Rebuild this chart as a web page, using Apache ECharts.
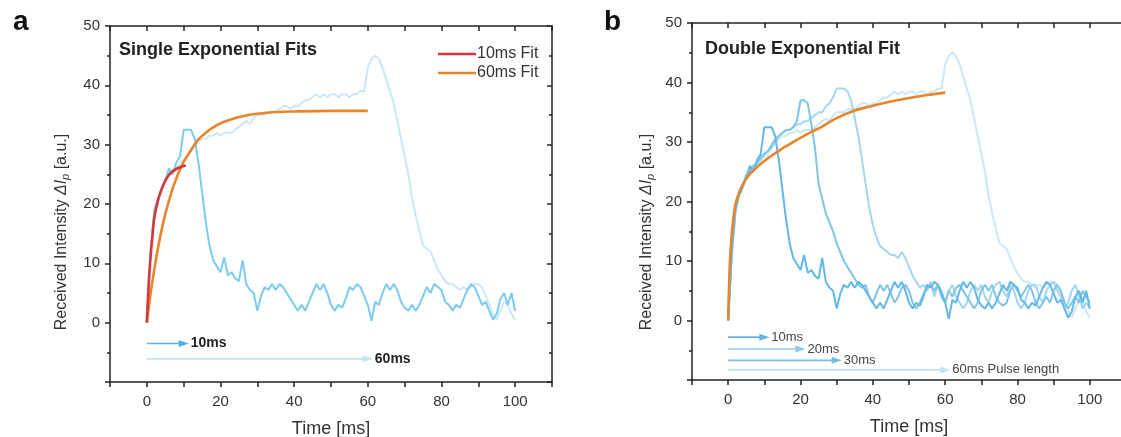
<!DOCTYPE html>
<html>
<head>
<meta charset="utf-8">
<title>Pulse response fits</title>
<script src="https://cdn.jsdelivr.net/npm/echarts@6/dist/echarts.min.js"></script>
<style>
  html, body { margin: 0; padding: 0; background: #fff; }
  #chart { width: 1121px; height: 437px; }
</style>
</head>
<body>
<div id="chart"></div>
<script>
var chart = echarts.init(document.getElementById('chart'));

// received intensity, one reading per ms (t = 0 .. 100)
var trace10 = [0, 12, 19, 21, 22.5, 24, 26, 25, 27, 28,
  32.5, 32.5, 32.5, 31, 27, 22, 17, 13, 10.5, 9.5,
  8.5, 11, 8, 8.5, 7.5, 7, 10.5, 6.5, 5.5, 5,
  2, 4.5, 6, 5.5, 6.5, 5.5, 6.5, 6, 5, 4,
  3, 2, 3, 2, 3.5, 5, 6.5, 5.5, 6.5, 5,
  3, 2, 3, 2.5, 4, 6, 5.5, 6.5, 6, 4.5,
  3, 0.3, 3.5, 3, 5, 6.5, 5.5, 6.5, 5.5, 3.5,
  2.5, 2, 3, 2, 3, 4.5, 6, 5, 6.5, 6,
  5.5, 3.5, 3, 2, 3, 2.5, 4, 5.5, 6.5, 6,
  4.5, 3, 3.5, 2, 0.5, 1.5, 4, 5, 3, 5, 2];

var trace20 = [0, 11, 18.5, 21, 22.5, 24.5, 25, 26, 26.5, 27.5,
  28, 28.5, 29.5, 30.5, 31, 31.5, 32, 32, 32.5, 33.5,
  37, 37, 36.5, 33, 29, 23, 20.5, 18, 16.5, 15,
  13, 11.5, 10, 9, 8, 7, 6, 5.5, 6, 4,
  3, 4.5, 6, 5, 6, 4.5, 3, 4, 5.5, 6,
  5, 3, 2, 3, 4.5, 5.5, 6, 5, 6, 4,
  3, 5, 4, 5.5, 6, 5, 4, 3, 2, 3,
  5, 6, 5, 6, 4, 3, 2.5, 3, 5, 6,
  5, 4, 5, 6, 5, 3, 2, 3, 4, 3,
  5, 6, 5, 3, 2, 3, 4, 3, 5, 4, 3];

var trace30 = [0, 11.5, 18, 21.5, 23, 24, 25.5, 26, 26.5, 27,
  28, 28.5, 29, 30, 31, 31.5, 32, 32, 32.5, 33,
  33, 33.5, 33.5, 34, 34.5, 35, 35, 36, 36.5, 37.5,
  39, 39, 39, 38.5, 37, 34, 31, 27, 23, 19,
  16, 14, 12.5, 12, 11.5, 11, 11, 10.5, 11.5, 10.5,
  9, 7.5, 6.5, 5.5, 6, 5, 6.5, 4, 6, 5,
  3, 5, 6, 4, 3, 2, 3, 5, 6, 5,
  6, 4, 3, 5, 6, 6.5, 5, 4, 6, 5,
  3, 2, 3, 5, 6, 6, 4, 3, 5, 6,
  6.5, 5, 4, 2, 3, 5, 6, 4, 2, 3, 2];

var trace60 = [0, 11, 18, 21, 22, 24, 25, 25.5, 26, 27,
  27.5, 28, 29, 30, 30.5, 31, 31, 31.5, 31.5, 32,
  31.5, 32, 32, 32, 32.5, 33, 33.5, 34, 33.5, 34.5,
  35, 35, 35, 35.5, 35.5, 35.5, 36, 36.5, 36.5, 36,
  36.5, 36.5, 37, 37.5, 37.5, 38, 38.5, 38, 38.5, 38,
  38.5, 38.5, 38, 38.5, 38.5, 38, 38.5, 38.5, 39, 39,
  43, 44.5, 45, 44.5, 43, 41, 39, 37, 34, 31,
  28, 25, 21, 18, 15.5, 13, 12.5, 12, 10.5, 9,
  8, 7, 6.5, 6.5, 6, 5.5, 6, 5.5, 6, 6.5,
  6.5, 6, 4.5, 3, 1.5, 0.5, 2, 3.5, 3, 1.5, 0.5];

// fitted curves [t, intensity]
var fit10 = [[0, 0], [0.5, 6.5], [1, 11], [1.5, 14.5], [2, 17.5], [3, 20.5], [4, 22.5],
  [5, 23.9], [6, 24.9], [7, 25.5], [8, 25.9], [9, 26.2], [10, 26.4], [10.6, 26.5]];
var fit60 = [[0, 0], [1, 4.8], [2, 8.9], [3, 12.5], [4, 15.6], [5, 18.3], [6, 20.5],
  [7, 22.6], [8, 24.3], [9, 25.8], [10, 27.1], [12, 29.1], [14, 30.9], [16, 32.0],
  [18, 32.9], [20, 33.6], [23, 34.3], [26, 34.8], [30, 35.2], [35, 35.5], [40, 35.6],
  [50, 35.7], [60, 35.7]];
var fitDouble = [[0, 0], [0.25, 6], [0.5, 10], [1, 14.5], [1.5, 17.5], [2, 19.5], [3, 21.5],
  [4, 22.8], [5, 23.8], [6, 24.6], [7, 25.2], [8, 25.8], [10, 26.8], [12, 27.7],
  [14, 28.5], [16, 29.3], [18, 30], [20, 30.7], [23, 31.7], [26, 32.6], [30, 34.0],
  [35, 35.3], [40, 36.1], [45, 36.8], [50, 37.4], [55, 37.9], [60, 38.3]];

// pulse length markers
var pulsesA = [10, 60];
var pulseNamesA = ['10ms', '60ms'];
var pulsesB = [10, 20, 30, 60];
var pulseNamesB = ['10ms', '20ms', '30ms', '60ms Pulse length'];

var xTicks = [0, 20, 40, 60, 80, 100];
var yTicks = [0, 10, 20, 30, 40, 50];

// ---- styling ----
var FONT = '"Liberation Sans", Arial, sans-serif';
var AXIS = '#222';
var arrowRowsA = [-3.5, -6.1];
var arrowRowsB = [-2.8, -4.8, -6.7, -8.3];
var arrowColorsA = ['#55b0e3', '#c4e3f6'];
var arrowColorsB = ['#5fb6e6', '#8bcbee', '#72bfe9', '#c4e3f6'];

function perMs(arr) {
  return arr.map(function (v, i) { return [i, v]; });
}

function xAxisFor(grid, pos) {
  var main = pos === 'bottom';
  return {
    gridIndex: grid, type: 'value', position: pos,
    min: -10, max: 110, interval: 10,
    axisLine: { onZero: false, lineStyle: { color: AXIS, width: 1.5 } },
    axisTick: { inside: !main, length: 5, lineStyle: { color: AXIS, width: 1.5 } },
    axisLabel: {
      show: main, margin: 12, color: '#333', fontSize: 15, fontFamily: FONT,
      formatter: function (v) { return xTicks.indexOf(v) >= 0 ? String(v) : ''; }
    },
    splitLine: { show: false },
    name: main ? 'Time [ms]' : '', nameLocation: 'middle', nameGap: 38,
    nameTextStyle: { fontSize: 18, color: '#333', fontFamily: FONT }
  };
}

function yAxisFor(grid, pos) {
  var main = pos === 'left';
  return {
    gridIndex: grid, type: 'value', position: pos,
    min: -10, max: 50, interval: 10,
    axisLine: { onZero: false, lineStyle: { color: AXIS, width: 1.5 } },
    axisTick: { inside: !main, length: 5, lineStyle: { color: AXIS, width: 1.5 } },
    minorTick: { show: true, splitNumber: 2, length: 3, lineStyle: { color: AXIS, width: 1.5 } },
    axisLabel: {
      show: main, margin: 10, color: '#333', fontSize: 15, fontFamily: FONT,
      formatter: function (v) { return yTicks.indexOf(v) >= 0 ? String(v) : ''; }
    },
    splitLine: { show: false }
  };
}

function traceSeries(name, arr, color, xi) {
  return {
    name: name, type: 'line', xAxisIndex: xi, yAxisIndex: xi,
    data: perMs(arr), symbol: 'none', silent: true,
    color: color, lineStyle: { color: color, width: 2 }
  };
}

function fitSeries(name, pts, color, xi) {
  return {
    name: name, type: 'line', xAxisIndex: xi, yAxisIndex: xi,
    data: pts, smooth: 0.3, symbol: 'none', silent: true,
    color: color, lineStyle: { color: color, width: 2.6 }
  };
}

function arrowSeries(len, text, row, color, xi, lbl) {
  return {
    type: 'line', xAxisIndex: xi, yAxisIndex: xi, silent: true,
    symbol: 'triangle', symbolSize: [7, 10], symbolRotate: -90,
    color: color, itemStyle: { color: color },
    lineStyle: { color: color, width: 1.6 },
    data: [
      { value: [0, row], symbol: 'none' },
      { value: [len, row], label: Object.assign({ show: true, position: 'right', distance: 2, formatter: text }, lbl) }
    ]
  };
}

var series = [
  traceSeries('60ms a', trace60, '#cbe7f8', 0),
  traceSeries('10ms a', trace10, '#7ccbf1', 0),
  fitSeries('60ms Fit', fit60, '#e8852c', 0),
  fitSeries('10ms Fit', fit10, '#d7373c', 0),
  traceSeries('60ms b', trace60, '#cbe7f8', 2),
  traceSeries('30ms b', trace30, '#a4d6f0', 2),
  traceSeries('20ms b', trace20, '#7fc6e6', 2),
  traceSeries('10ms b', trace10, '#62b8e8', 2),
  fitSeries('Double Fit', fitDouble, '#e8852c', 2)
];

pulsesA.forEach(function (p, i) {
  series.push(arrowSeries(p, pulseNamesA[i], arrowRowsA[i], arrowColorsA[i], 0,
    { fontSize: 14, fontWeight: 'bold', color: '#222', fontFamily: FONT }));
});
pulsesB.forEach(function (p, i) {
  series.push(arrowSeries(p, pulseNamesB[i], arrowRowsB[i], arrowColorsB[i], 2,
    { fontSize: 13, color: '#444', fontFamily: FONT }));
});

var yTitle = '{n|Received Intensity }{i|ΔI}{s|p}{n| [a.u.]}';
var yTitleRich = {
  n: { fontSize: 16, fontFamily: FONT, fill: '#333', color: '#333' },
  i: { fontSize: 16, fontFamily: FONT, fontStyle: 'italic', fill: '#333', color: '#333' },
  s: { fontSize: 11, fontFamily: FONT, fontStyle: 'italic', fill: '#333', color: '#333', padding: [7, 0, 0, 0] }
};

var option = {
  backgroundColor: '#fff',
  animation: false,
  grid: [
    { left: 110, top: 26, width: 442, height: 356, outerBoundsMode: 'none', containLabel: false },
    { left: 692, top: 23, width: 434, height: 357, outerBoundsMode: 'none', containLabel: false }
  ],
  xAxis: [xAxisFor(0, 'bottom'), xAxisFor(0, 'top'), xAxisFor(1, 'bottom'), xAxisFor(1, 'top')],
  yAxis: [yAxisFor(0, 'left'), yAxisFor(0, 'right'), yAxisFor(1, 'left'), yAxisFor(1, 'right')],
  legend: {
    data: ['10ms Fit', '60ms Fit'],
    left: 433, top: 41, orient: 'vertical',
    icon: 'rect', itemWidth: 38, itemHeight: 2.5, itemGap: 3,
    selectedMode: false,
    textStyle: { fontSize: 16, color: '#333', fontFamily: FONT, lineHeight: 16, padding: [0, 0, 0, -4] }
  },
  graphic: [
    { type: 'text', x: 13, y: 22, style: { text: 'a', fontSize: 28, fontWeight: 'bold', fontFamily: FONT, fill: '#111', verticalAlign: 'middle' } },
    { type: 'text', x: 604, y: 22, style: { text: 'b', fontSize: 28, fontWeight: 'bold', fontFamily: FONT, fill: '#111', verticalAlign: 'middle' } },
    { type: 'text', x: 119, y: 50, style: { text: 'Single Exponential Fits', fontSize: 18, fontWeight: 'bold', fontFamily: FONT, fill: '#222', verticalAlign: 'middle' } },
    { type: 'text', x: 705, y: 49, style: { text: 'Double Exponential Fit', fontSize: 18, fontWeight: 'bold', fontFamily: FONT, fill: '#222', verticalAlign: 'middle' } },
    { type: 'text', x: 62, y: 232, rotation: Math.PI / 2, style: { text: yTitle, rich: yTitleRich, align: 'center', verticalAlign: 'middle' } },
    { type: 'text', x: 647, y: 232, rotation: Math.PI / 2, style: { text: yTitle, rich: yTitleRich, align: 'center', verticalAlign: 'middle' } }
  ],
  series: series
};

chart.setOption(option);
</script>
</body>
</html>
